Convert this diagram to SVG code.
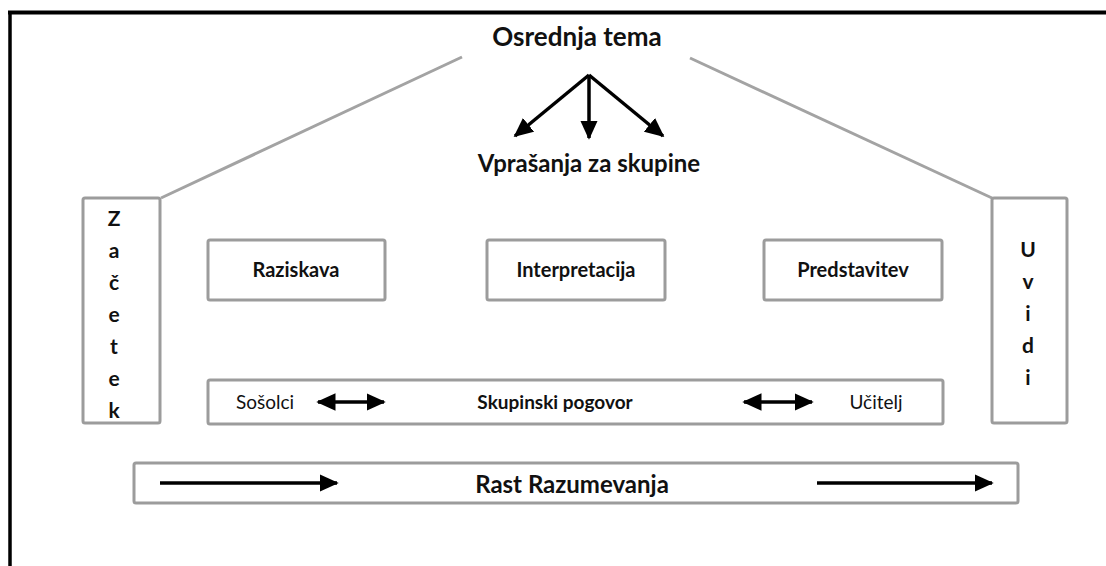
<svg xmlns="http://www.w3.org/2000/svg" width="1106" height="566" viewBox="0 0 1106 566">
<style>
.box{fill:#fff;stroke:#9c9c9c;stroke-width:3}
.roof{stroke:#a3a3a3;stroke-width:3;fill:none}
.t{font-family:Lato,"Liberation Sans",sans-serif;fill:#111;text-anchor:middle}
.b{font-weight:bold}
.arr{stroke:#000;stroke-width:3.5;fill:none}
</style>
<defs>
<marker id="ah" markerWidth="5.5" markerHeight="5" refX="5" refY="2.5" orient="auto" markerUnits="strokeWidth">
<path d="M0,0 L5.5,2.5 L0,5 z" fill="#000"/>
</marker>
<marker id="ahs" markerWidth="5.5" markerHeight="5" refX="0.5" refY="2.5" orient="auto" markerUnits="strokeWidth">
<path d="M5.5,0 L0,2.5 L5.5,5 z" fill="#000"/>
</marker>
</defs>
<rect width="1106" height="566" fill="#fff"/>
<g id="frame">
<line x1="8" y1="12.5" x2="1106" y2="12.5" stroke="#000" stroke-width="4"/>
<line x1="10" y1="11" x2="10" y2="566" stroke="#000" stroke-width="3.5"/>
</g>
<g id="connectors">
<line class="roof" x1="462" y1="57" x2="161" y2="198"/>
<line class="roof" x1="690" y1="58" x2="992" y2="198"/>
<line class="arr" x1="589" y1="75" x2="515" y2="136" marker-end="url(#ah)"/>
<line class="arr" x1="589" y1="75" x2="589" y2="138" marker-end="url(#ah)"/>
<line class="arr" x1="589" y1="75" x2="663" y2="136" marker-end="url(#ah)"/>
</g>
<g id="osrednja"><text class="t b" x="577" y="46" font-size="26">Osrednja tema</text></g>
<g id="vprasanja"><text class="t b" x="589" y="172" font-size="24">Vprašanja za skupine</text></g>
<g id="zacetek">
<rect class="box" x="83" y="198" width="77" height="225" rx="2"/>
<text class="t b" font-size="21"><tspan x="114" y="226">Z</tspan><tspan x="114" y="258">a</tspan><tspan x="114" y="290">č</tspan><tspan x="114" y="322">e</tspan><tspan x="114" y="354">t</tspan><tspan x="114" y="386">e</tspan><tspan x="114" y="418">k</tspan></text>
</g>
<g id="uvidi">
<rect class="box" x="992" y="198" width="75" height="225" rx="2"/>
<text class="t b" font-size="21"><tspan x="1028" y="257">U</tspan><tspan x="1028" y="289">v</tspan><tspan x="1028" y="321">i</tspan><tspan x="1028" y="353">d</tspan><tspan x="1028" y="385">i</tspan></text>
</g>
<g id="raziskava">
<rect class="box" x="208" y="240" width="177" height="60" rx="2"/>
<text class="t b" x="296" y="277" font-size="20">Raziskava</text>
</g>
<g id="interpretacija">
<rect class="box" x="487" y="240" width="178" height="60" rx="2"/>
<text class="t b" x="576" y="277" font-size="20">Interpretacija</text>
</g>
<g id="predstavitev">
<rect class="box" x="764" y="240" width="178" height="60" rx="2"/>
<text class="t b" x="853" y="277" font-size="20">Predstavitev</text>
</g>
<g id="pogovor">
<rect class="box" x="208" y="380" width="735" height="44" rx="2"/>
<text class="t" x="265" y="409" font-size="19">Sošolci</text>
<text class="t b" x="555" y="409" font-size="19">Skupinski pogovor</text>
<text class="t" x="876" y="409" font-size="19">Učitelj</text>
<line class="arr" x1="318" y1="402" x2="384" y2="402" marker-start="url(#ahs)" marker-end="url(#ah)"/>
<line class="arr" x1="744" y1="402" x2="812" y2="402" marker-start="url(#ahs)" marker-end="url(#ah)"/>
</g>
<g id="rast">
<rect class="box" x="134" y="463" width="884" height="40" rx="2"/>
<text class="t b" x="572" y="493" font-size="24">Rast Razumevanja</text>
<line class="arr" x1="160" y1="483" x2="337" y2="483" marker-end="url(#ah)"/>
<line class="arr" x1="817" y1="483" x2="992" y2="483" marker-end="url(#ah)"/>
</g>
</svg>
